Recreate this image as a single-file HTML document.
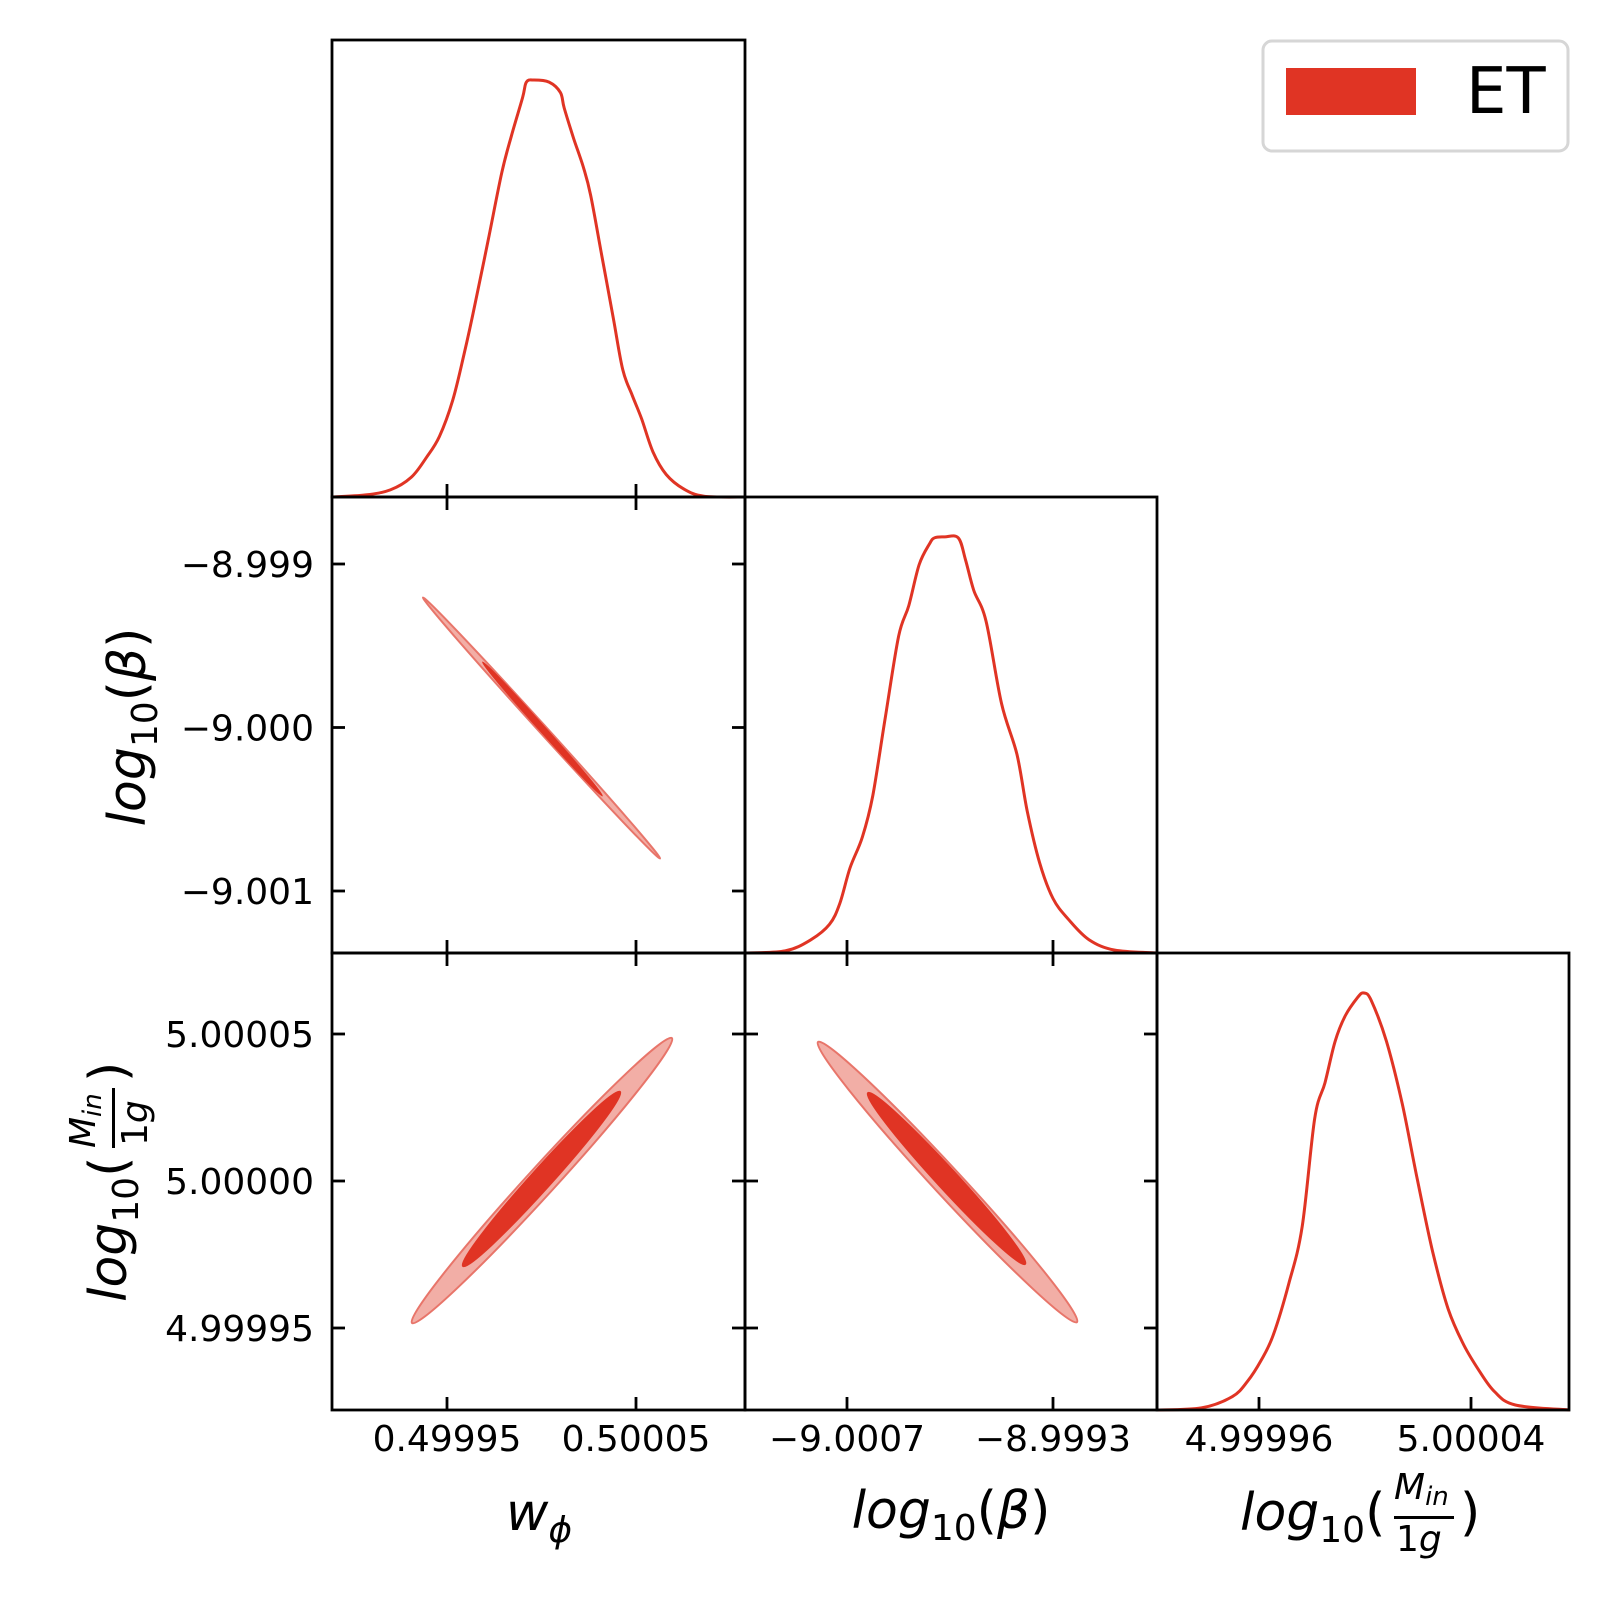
<!DOCTYPE html>
<html><head><meta charset="utf-8"><style>
html,body{margin:0;padding:0;background:#fff;}
svg{display:block;font-family:"DejaVu Sans","Liberation Sans",sans-serif;}
</style></head><body>
<svg id="chart" width="1609" height="1609" viewBox="0 0 1609 1609" xmlns="http://www.w3.org/2000/svg">
<rect width="1609" height="1609" fill="#fff"/>
<g id="marks"></g>
<g id="axes"></g>
<g id="labels" fill="#000">
  <text x="539" y="1530" font-size="52" font-style="italic" text-anchor="middle">w<tspan font-size="36" dy="12">ϕ</tspan></text>
  <text x="951" y="1528" font-size="52" text-anchor="middle"><tspan font-style="italic">log</tspan><tspan font-size="36" dy="12">10</tspan><tspan dy="-12">(</tspan><tspan font-style="italic">β</tspan>)</text>
  <g>
    <text x="1240" y="1530" font-size="52"><tspan font-style="italic">log</tspan><tspan font-size="36" dy="12">10</tspan><tspan dy="-12">(</tspan></text>
    <text x="1394" y="1499" font-size="36" font-style="italic">M<tspan font-size="26" dy="6">in</tspan></text>
    <rect x="1394" y="1516" width="60" height="3"/>
    <text x="1396" y="1551" font-size="36">1<tspan font-style="italic">g</tspan></text>
    <text x="1460" y="1530" font-size="52">)</text>
  </g>
  <text transform="translate(145,727) rotate(-90)" font-size="52" text-anchor="middle"><tspan font-style="italic">log</tspan><tspan font-size="36" dy="12">10</tspan><tspan dy="-12">(</tspan><tspan font-style="italic">β</tspan>)</text>
  <g transform="translate(126,1302) rotate(-90)">
    <text x="0" y="0" font-size="52"><tspan font-style="italic">log</tspan><tspan font-size="36" dy="12">10</tspan><tspan dy="-12">(</tspan></text>
    <text x="154" y="-31" font-size="36" font-style="italic">M<tspan font-size="26" dy="6">in</tspan></text>
    <rect x="154" y="-14" width="60" height="3"/>
    <text x="156" y="21" font-size="36">1<tspan font-style="italic">g</tspan></text>
    <text x="220" y="0" font-size="52">)</text>
  </g>
</g>
<g>
  <rect x="1263" y="41" width="305" height="110" rx="9" fill="#fff" stroke="#d6d6d6" stroke-width="3"/>
  <rect x="1286" y="68" width="130" height="47" fill="#e03424"/>
  <text x="1466" y="113" font-size="64">ET</text>
</g>
</svg>
<script>
// ---- data ----
const wGrid = [0.499889,0.499907,0.499920,0.499931,0.499939,0.499946,0.499953,0.499959,0.499965,0.499972,0.499979,0.499984,0.499990,0.499992,0.499996,0.500004,0.500010,0.500012,0.500017,0.500022,0.500026,0.500032,0.500038,0.500043,0.500048,0.500053,0.500059,0.500066,0.500075,0.500086,0.500108];
const wDensity = [0,0.005,0.017,0.047,0.094,0.145,0.232,0.342,0.466,0.621,0.778,0.865,0.958,0.995,1,0.995,0.970,0.933,0.860,0.793,0.724,0.576,0.429,0.305,0.244,0.187,0.108,0.054,0.020,0.002,0];
const betaGrid = [-9.0014,-9.00112,-9.000945,-9.000819,-9.000749,-9.000679,-9.000595,-9.000525,-9.000441,-9.00035,-9.00028,-9.00021,-9.00014,-9.000105,-9.000035,-8.999944,-8.999895,-8.999839,-8.999755,-8.99965,-8.999545,-8.999475,-8.999391,-8.9993,-8.999195,-8.999055,-8.99888,-8.998586];
const betaDensity = [0,0.005,0.032,0.069,0.119,0.205,0.279,0.378,0.563,0.760,0.835,0.933,0.983,0.998,1,0.998,0.946,0.872,0.798,0.600,0.477,0.341,0.217,0.131,0.081,0.032,0.007,0];
const massGrid = [4.9999216,4.9999383,4.9999499,4.9999557,4.9999608,4.9999654,4.9999713,4.9999763,4.999981,4.9999849,4.9999887,4.9999926,4.9999973,4.9999996,5.0000023,5.0000081,5.000014,5.0000198,5.0000256,5.0000314,5.0000373,5.0000431,5.0000489,5.0000567,5.0000773];
const massDensity = [0,0.005,0.032,0.069,0.119,0.180,0.304,0.440,0.699,0.785,0.884,0.946,0.990,1,0.983,0.884,0.736,0.551,0.378,0.242,0.156,0.094,0.044,0.012,0];
// contour extents: [start x, start y, end x, end y] in data units
const contourWBetaOuter = [0.4999373,-8.999205,0.5000627,-9.000801];
const contourWBetaInner = [0.4999690,-8.999602,0.5000320,-9.000416];
const contourWMassOuter = [0.4999315,4.9999517,0.5000690,5.0000486];
const contourWMassInner = [0.4999585,4.9999711,0.5000415,5.0000303];
const contourBetaMassOuter = [-9.000897,5.0000473,-8.999137,4.999952];
const contourBetaMassInner = [-9.000557,5.0000299,-8.999490,4.9999718];
const wTicks = [0.49995,0.50005];
const wTickLabels = ["0.49995","0.50005"];
const betaXTicks = [-9.0007,-8.9993];
const betaXTickLabels = ["\u22129.0007","\u22128.9993"];
const massXTicks = [4.99996,5.00004];
const massXTickLabels = ["4.99996","5.00004"];
const betaYTicks = [-8.999,-9.000,-9.001];
const betaYTickLabels = ["\u22128.999","\u22129.000","\u22129.001"];
const massYTicks = [5.00005,5.00000,4.99995];
const massYTickLabels = ["5.00005","5.00000","4.99995"];

// ---- layout ----
const colX = [332,745,1157,1569];
const rowY = [40,497,953,1410];
const NS = "http://www.w3.org/2000/svg";
const marks = document.getElementById('marks');
const axes = document.getElementById('axes');
function lin(d0,d1,p0,p1){return v=>p0+(v-d0)/(d1-d0)*(p1-p0);}
const xW = lin(0.49995,0.50005,447,636);
const xB = lin(-9.0007,-8.9993,847,1053);
const xM = lin(4.99996,5.00004,1259,1471);
const yB = lin(-8.999,-9.001,564,891);
const yM = lin(5.00005,4.99995,1034,1328);
const densMax = 1.096;
function mk(tag,attrs,parent){const e=document.createElementNS(NS,tag);for(const k in attrs)e.setAttribute(k,attrs[k]);parent.appendChild(e);return e;}

function drawDensity(xs,ds,xf,row,name){
  const top=rowY[row],bot=rowY[row+1];
  const yf=d=>bot-d/densMax*(bot-top);
  const P=xs.map((x,i)=>[xf(x),yf(ds[i])]);
  let p='M'+P[0][0].toFixed(1)+','+P[0][1].toFixed(1);
  for(let i=0;i<P.length-1;i++){
    const p0=P[Math.max(i-1,0)],p1=P[i],p2=P[i+1],p3=P[Math.min(i+2,P.length-1)];
    const c1=[p1[0]+(p2[0]-p0[0])/6,p1[1]+(p2[1]-p0[1])/6];
    const c2=[p2[0]-(p3[0]-p1[0])/6,p2[1]-(p3[1]-p1[1])/6];
    p+='C'+c1[0].toFixed(1)+','+c1[1].toFixed(1)+' '+c2[0].toFixed(1)+','+c2[1].toFixed(1)+' '+p2[0].toFixed(1)+','+p2[1].toFixed(1);
  }
  const e=mk('path',{d:p,fill:'none',stroke:'#e03424','stroke-width':3,'stroke-linejoin':'round'},marks);
  
  
}
function drawEllipse(c,xf,yf,hw,fill,stroke,name){
  const x1=xf(c[0]),y1=yf(c[1]),x2=xf(c[2]),y2=yf(c[3]);
  const cx=(x1+x2)/2,cy=(y1+y2)/2,rx=Math.hypot(x2-x1,y2-y1)/2;
  const ang=Math.atan2(y2-y1,x2-x1)*180/Math.PI;
  const e=mk('ellipse',{cx:cx,cy:cy,rx:rx,ry:hw,fill:fill,stroke:stroke,'stroke-width':2,transform:`rotate(${ang} ${cx} ${cy})`},marks);
  
  
}
drawDensity(wGrid,wDensity,xW,0,'density-w-phi');
drawDensity(betaGrid,betaDensity,xB,1,'density-log-beta');
drawDensity(massGrid,massDensity,xM,2,'density-log-mass');
drawEllipse(contourWBetaOuter,xW,yB,4,'#f2aea6','#e8756a','contour-w-beta-95');
drawEllipse(contourWBetaInner,xW,yB,2.5,'#e03424','#e03424','contour-w-beta-68');
drawEllipse(contourWMassOuter,xW,yM,14,'#f2aea6','#e8756a','contour-w-mass-95');
drawEllipse(contourWMassInner,xW,yM,10,'#e03424','#e03424','contour-w-mass-68');
drawEllipse(contourBetaMassOuter,xB,yM,14,'#f2aea6','#e8756a','contour-beta-mass-95');
drawEllipse(contourBetaMassInner,xB,yM,10,'#e03424','#e03424','contour-beta-mass-68');

// ---- axes ----
const panels=[[0,0],[1,0],[1,1],[2,0],[2,1],[2,2]];
const xFns=[xW,xB,xM], xTicksArr=[wTicks,betaXTicks,massXTicks], xLabArr=[wTickLabels,betaXTickLabels,massXTickLabels];
const yFns=[null,yB,yM], yTicksArr=[null,betaYTicks,massYTicks], yLabArr=[null,betaYTickLabels,massYTickLabels];
const TL=13;
panels.forEach(([r,c])=>{
  const L=colX[c],R=colX[c+1],T=rowY[r],B=rowY[r+1];
  const fr=mk('rect',{x:L,y:T,width:R-L,height:B-T,fill:'none',stroke:'#000','stroke-width':2.8},axes);
  
  
  xTicksArr[c].forEach(v=>{
    const x=xFns[c](v);
    mk('line',{x1:x,x2:x,y1:B,y2:B-TL,stroke:'#000','stroke-width':2.8},axes);
    if(r!==c) mk('line',{x1:x,x2:x,y1:T,y2:T+TL,stroke:'#000','stroke-width':2.8},axes);
  });
  if(r!==c){
    yTicksArr[r].forEach(v=>{
      const y=yFns[r](v);
      mk('line',{x1:L,x2:L+TL,y1:y,y2:y,stroke:'#000','stroke-width':2.8},axes);
      mk('line',{x1:R,x2:R-TL,y1:y,y2:y,stroke:'#000','stroke-width':2.8},axes);
    });
  }
});
// x tick labels (bottom row)
[0,1,2].forEach(c=>{
  xTicksArr[c].forEach((v,i)=>{
    const t=mk('text',{x:xFns[c](v),y:1451,'font-size':36,'text-anchor':'middle',fill:'#000'},axes);
    t.textContent=xLabArr[c][i];
    
    
  });
});
// y tick labels (left column)
[1,2].forEach(r=>{
  yTicksArr[r].forEach((v,i)=>{
    const t=mk('text',{x:314,y:yFns[r](v)+13,'font-size':36,'text-anchor':'end',fill:'#000'},axes);
    t.textContent=yLabArr[r][i];
    
    
  });
});
</script>
</body></html>
